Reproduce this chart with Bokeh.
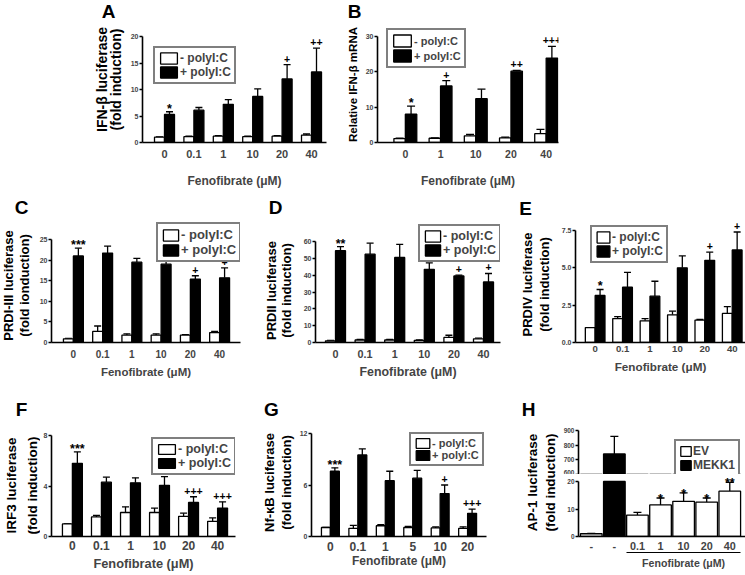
import numpy as np
from bokeh.plotting import figure
from bokeh.layouts import column, row
from bokeh.models import (Range1d, FixedTicker, Legend, LegendItem, Whisker,
                          TeeHead, ColumnDataSource, PrintfTickFormatter, LinearAxis)
from bokeh.core.properties import value
from bokeh.embed import file_html
from bokeh.resources import INLINE

FONT = "Liberation Sans"
LW = 1.3
AX_LW = 1.6
W_TOTAL = 745

# ---------------- data ----------------
POLY_LEGEND = ["- polyI:C", "+ polyI:C"]
X_TITLE = "Fenofibrate (\u03bcM)"
LETTERS = ["A", "B", "C", "D", "E", "F", "G", "H"]

A_doses = ["0", "0.1", "1", "10", "20", "40"]
A_minus = [1.0, 1.1, 1.2, 1.1, 1.2, 1.4]
A_minus_sem = [0.05, 0.1, 0.1, 0.1, 0.1, 0.2]
A_plus = [5.3, 6.1, 7.2, 8.7, 12.0, 13.3]
A_plus_sem = [0.5, 0.5, 0.9, 1.4, 2.7, 4.5]
A_sig = ["*", "", "", "", "+", "++"]
A_yticks = [0, 5, 10, 15, 20]
A_ylabel = ["IFN-\u03b2 luciferase", "(fold induction)"]

B_doses = ["0", "1", "10", "20", "40"]
B_minus = [1.1, 1.2, 1.9, 1.3, 2.5]
B_minus_sem = [0.1, 0.1, 0.4, 0.2, 1.2]
B_plus = [8.0, 16.0, 12.4, 20.2, 23.9]
B_plus_sem = [2.3, 1.5, 2.7, 0.2, 3.3]
B_sig = ["*", "+", "", "++", "+++"]
B_yticks = [0, 10, 20, 30]
B_ylabel = ["Relative IFN-\u03b2 mRNA"]

C_doses = ["0", "0.1", "1", "10", "20", "40"]
C_minus = [0.9, 2.7, 1.8, 1.8, 1.8, 2.4]
C_minus_sem = [0.1, 1.3, 0.3, 0.3, 0.1, 0.3]
C_plus = [21.0, 21.7, 19.5, 19.0, 15.4, 15.7]
C_plus_sem = [1.9, 1.7, 0.9, 1.4, 0.8, 2.4]
C_sig = ["***", "", "", "", "+", "+"]
C_yticks = [0, 5, 10, 15, 20, 25]
C_ylabel = ["PRDI-III luciferase", "(fold ionduction)"]

D_doses = ["0", "0.1", "1", "10", "20", "40"]
D_minus = [1.0, 1.5, 1.5, 1.3, 3.0, 2.2]
D_minus_sem = [0.2, 0.3, 0.3, 0.3, 1.3, 0.4]
D_plus = [54.5, 52.5, 50.5, 43.5, 39.5, 36.0]
D_plus_sem = [2.4, 6.5, 7.8, 3.8, 0.5, 5.0]
D_sig = ["**", "", "", "", "+", "+"]
D_yticks = [0, 10, 20, 30, 40, 50, 60]
D_ylabel = ["PRDII luciferase", "(fold induction)"]

E_doses = ["0", "0.1", "1", "10", "20", "40"]
E_minus = [1.0, 1.6, 1.45, 1.85, 1.5, 1.95]
E_minus_sem = [0.0, 0.13, 0.15, 0.25, 0.05, 0.45]
E_plus = [3.15, 3.7, 3.1, 5.0, 5.5, 6.2]
E_plus_sem = [0.4, 1.0, 1.0, 0.8, 0.55, 1.2]
E_sig = ["*", "", "", "", "+", "+"]
E_yticks = [0, 2.5, 5.0, 7.5]
E_ylabel = ["PRDIV luciferase", "(fold induction)"]

F_doses = ["0", "0.1", "1", "10", "20", "40"]
F_minus = [1.0, 1.55, 1.9, 1.9, 1.6, 1.2]
F_minus_sem = [0.0, 0.12, 0.45, 0.35, 0.25, 0.27]
F_plus = [5.8, 4.3, 4.25, 4.05, 2.7, 2.25]
F_plus_sem = [0.9, 0.4, 0.4, 0.7, 0.45, 0.5]
F_sig = ["***", "", "", "", "+++", "+++"]
F_yticks = [0, 4, 8]
F_ylabel = ["IRF3 luciferase", "(fold induction)"]

G_doses = ["0", "0.1", "1", "5", "10", "20"]
G_minus = [1.05, 0.95, 1.25, 1.05, 1.0, 0.95]
G_minus_sem = [0.0, 0.35, 0.12, 0.12, 0.12, 0.18]
G_plus = [7.6, 9.5, 6.5, 6.8, 5.0, 2.7]
G_plus_sem = [0.4, 0.7, 1.1, 0.9, 1.0, 0.5]
G_sig = ["***", "", "", "", "+", "+++"]
G_yticks = [0, 6, 12]
G_ylabel = ["Nf-\u03baB luciferase", "(fold induction)"]

H_labels = ["-", "-", "0.1", "1", "10", "20", "40"]
H_group = ["EV", "MEKK1", "EV", "EV", "EV", "EV", "EV"]
H_vals = [1.0, 740.0, 7.8, 11.5, 12.8, 12.5, 16.5]
H_sem = [0.1, 120.0, 1.0, 2.5, 3.1, 1.5, 3.2]
H_sig = ["", "", "", "*", "*", "*", "**"]
H_low_ticks = [0, 10, 20]
H_high_ticks = [600, 700, 800, 900]
H_legend = ["EV", "MEKK1"]
H_ylabel = ["AP-1 luciferase", "(fold induction)"]

# ---------------- layout geometry (page pixels) ----------------
# (row top, row bottom, frame top, frame bottom)
R1 = (22, 192, 26, 142)
R2 = (219, 385, 219, 342)
R3 = (421, 575, 430, 536)
HEAD = [(0, 22), (192, 219), (385, 421)]


# ---------------- helpers ----------------
def make_fig(left, width, rowg, x0, x1, xr, yr, xaxis=True, yaxis=True):
    rt, rb, ft, fb = rowg
    kw = dict(width=int(width), height=int(rb - rt), x_range=xr, y_range=yr,
              output_backend="svg", toolbar_location=None,
              min_border_left=int(round(x0 - left)), min_border_right=int(round(left + width - x1)),
              min_border_top=int(round(ft - rt)), min_border_bottom=int(round(rb - fb)))
    if not xaxis:
        kw["x_axis_location"] = None
    if not yaxis:
        kw["y_axis_location"] = None
    p = figure(**kw)
    p.outline_line_color = None
    p.grid.visible = False
    return p


def header_fig(top, bottom, xs, ys, texts):
    p = make_fig(0, W_TOTAL, (top, bottom, top, bottom), 0, W_TOTAL,
                 Range1d(0, W_TOTAL), Range1d(bottom, top), xaxis=False, yaxis=False)
    p.text(x=xs, y=ys, text=texts, text_align="center", text_baseline="middle",
           text_font=value(FONT), text_font_style="bold", text_font_size="19px", text_color="black")
    return p


def ylabel_fig(left, right, rowg, xs, yc, lines, size):
    rt, rb, ft, fb = rowg
    p = make_fig(left, right - left, rowg, left, right, Range1d(left, right), Range1d(fb, ft),
                 xaxis=False, yaxis=False)
    p.text(x=xs, y=[yc] * len(lines), text=lines, angle=np.pi / 2, text_align="center",
           text_baseline="middle", text_font=value(FONT), text_font_style="bold",
           text_font_size=f"{size}px", text_color="black")
    return p


def style_y(p, ticks, size, fmt=None):
    ax = p.yaxis[0]
    ax.ticker = FixedTicker(ticks=ticks)
    ax.bounds = (ticks[0], ticks[-1])
    ax.axis_line_width = AX_LW
    ax.major_tick_line_width = AX_LW
    ax.major_tick_in = 0
    ax.major_tick_out = 3
    ax.minor_tick_line_color = None
    ax.major_label_text_font = FONT
    ax.major_label_text_font_style = "bold"
    ax.major_label_text_font_size = f"{size}px"
    ax.major_label_standoff = 1
    if fmt:
        ax.formatter = PrintfTickFormatter(format=fmt)


def style_x(p, labels, size, title, tsize, s, t):
    ax = p.xaxis[0]
    ax.ticker = FixedTicker(ticks=list(range(len(labels))))
    ax.major_label_overrides = {i: lab for i, lab in enumerate(labels)}
    ax.major_tick_in = 0
    ax.major_tick_out = 0
    ax.major_tick_line_color = None
    ax.minor_tick_line_color = None
    ax.axis_line_width = AX_LW
    ax.major_label_text_font = FONT
    ax.major_label_text_font_style = "bold"
    ax.major_label_text_font_size = f"{size}px"
    ax.major_label_standoff = s
    if title:
        ax.axis_label = title
        ax.axis_label_standoff = t
        ax.axis_label_text_font = FONT
        ax.axis_label_text_font_style = "bold"
        ax.axis_label_text_font_size = f"{tsize}px"


def add_legend(p, x0, fb, renderers, labels, lbox, font, gw, dy):
    lx0, ly0, lx1, ly1 = lbox
    pad = 3
    gh = int(round((ly1 - ly0 - 4) / 2))
    items = [LegendItem(label=l, renderers=[r]) for l, r in zip(labels, renderers)]
    leg = Legend(items=items, location=(int(round(lx0 - x0)), int(round(fb - ly1)) - 10 + dy),
                 orientation="vertical", border_line_color="black", border_line_width=2,
                 background_fill_color="white", background_fill_alpha=1.0,
                 padding=pad, spacing=0, margin=0, label_standoff=1,
                 glyph_width=gw, glyph_height=gh, label_height=gh,
                 label_text_font=FONT, label_text_font_style="bold",
                 label_text_font_size=f"{font}px", label_text_baseline="middle")
    p.add_layout(leg)


def sig_style(sig, star_off, plus_off):
    sizes = ["12.5px" if "*" in s else "10.5px" for s in sig]
    offs = [star_off if "*" in s else plus_off for s in sig]
    return sizes, offs


def sig_text(p, src):
    p.text(x="x", y="up", text="sig", source=src, text_align="center", text_baseline="alphabetic",
           text_font=value(FONT), text_font_style="bold", text_font_size="fs",
           y_offset="yo", text_color="black")


def grouped_panel(spec, rowg, cats, minus, minus_sem, plus, plus_sem, sig, yticks, yfmt=None):
    rt, rb, ft, fb = rowg
    x0, x1 = spec["fx"]
    c0, sp, bw = spec["c0"], spec["sp"], spec["bw"]
    ppu = (fb - spec["ax_top"]) / yticks[-1]
    xr = Range1d((x0 - c0) / sp, (x1 - c0) / sp)
    yr = Range1d(0, (fb - ft) / ppu)
    p = make_fig(spec["left"], spec["width"], rowg, x0, x1, xr, yr)
    w = bw / sp
    idx = np.arange(len(cats), dtype=float)
    fs, yo = sig_style(sig, -3, -6)
    sm = ColumnDataSource(dict(x=idx - w / 2, top=minus, up=list(np.add(minus, minus_sem))))
    spl = ColumnDataSource(dict(x=idx + w / 2, top=plus, up=list(np.add(plus, plus_sem)),
                                sig=sig, fs=fs, yo=yo))
    rm = p.vbar(x="x", top="top", bottom=0, width=w, source=sm,
                fill_color="white", line_color="black", line_width=LW)
    rp = p.vbar(x="x", top="top", bottom=0, width=w, source=spl,
                fill_color="black", line_color="black", line_width=LW)
    for s in (sm, spl):
        p.add_layout(Whisker(source=s, base="x", lower="top", upper="up",
                             line_width=LW, line_color="black",
                             upper_head=TeeHead(size=spec["cap"], line_width=LW, line_color="black"),
                             lower_head=None))
    sig_text(p, spl)
    style_y(p, yticks, 7, yfmt)
    style_x(p, cats, spec["xsize"], X_TITLE, spec["tsize"], spec["s"], spec["t"])
    add_legend(p, x0, fb, [rm, rp], POLY_LEGEND, spec["leg"], spec["lfont"], spec["gw"], spec["dy"])
    return p


# ---------------- panel specs ----------------
A_spec = dict(left=126, width=214, fx=(142, 326), ax_top=36, c0=164, sp=29.4, bw=10, cap=7,
              xsize=11, tsize=12, s=7, t=13, leg=(153, 42, 233, 73), lfont=12, gw=21, dy=-1)
B_spec = dict(left=362, width=383, fx=(376, 558), ax_top=36, c0=404, sp=35.4, bw=11.5, cap=8,
              xsize=10.5, tsize=12, s=7, t=13, leg=(385, 32, 462, 66), lfont=11, gw=22, dy=8)
C_spec = dict(left=36, width=224, fx=(50, 240), ax_top=239, c0=72, sp=29.4, bw=10, cap=7,
              xsize=10, tsize=11.5, s=7, t=5, leg=(155, 221, 237, 252), lfont=13, gw=19, dy=0)
D_spec = dict(left=296, width=216, fx=(315, 500), ax_top=241, c0=335, sp=29.6, bw=10, cap=7,
              xsize=10.8, tsize=12.4, s=7, t=4, leg=(418, 221, 498, 252), lfont=12.5, gw=19, dy=0)
E_spec = dict(left=558, width=187, fx=(572, 745), ax_top=230, c0=592, sp=27.9, bw=10, cap=7,
              xsize=9.6, tsize=11.7, s=3, t=5, leg=(587, 226, 662, 259), lfont=12, gw=16, dy=6)
F_spec = dict(left=40, width=215, fx=(50, 235), ax_top=435, c0=71, sp=29.2, bw=10, cap=7,
              xsize=12, tsize=12.8, s=4, t=3, leg=(150, 438, 232, 467), lfont=12.5, gw=21, dy=2)
G_spec = dict(left=296, width=224, fx=(310, 486), ax_top=433, c0=329, sp=27.6, bw=9, cap=7,
              xsize=12, tsize=12, s=5, t=0, leg=(408, 432, 480, 460), lfont=11, gw=17, dy=4)

pA = grouped_panel(A_spec, R1, A_doses, A_minus, A_minus_sem, A_plus, A_plus_sem, A_sig, A_yticks)
pB = grouped_panel(B_spec, R1, B_doses, B_minus, B_minus_sem, B_plus, B_plus_sem, B_sig, B_yticks)
pC = grouped_panel(C_spec, R2, C_doses, C_minus, C_minus_sem, C_plus, C_plus_sem, C_sig, C_yticks)
pD = grouped_panel(D_spec, R2, D_doses, D_minus, D_minus_sem, D_plus, D_plus_sem, D_sig, D_yticks)
pE = grouped_panel(E_spec, R2, E_doses, E_minus, E_minus_sem, E_plus, E_plus_sem, E_sig, E_yticks,
                   yfmt="%.1f")
pF = grouped_panel(F_spec, R3, F_doses, F_minus, F_minus_sem, F_plus, F_plus_sem, F_sig, F_yticks)
pG = grouped_panel(G_spec, R3, G_doses, G_minus, G_minus_sem, G_plus, G_plus_sem, G_sig, G_yticks)

# y-axis titles (separate narrow text panels)
lA = ylabel_fig(0, 126, R1, [101, 115], 79, A_ylabel, 14)
lB = ylabel_fig(340, 362, R1, [352], 84, B_ylabel, 11.5)
lC = ylabel_fig(0, 36, R2, [8, 24], 285, C_ylabel, 13)
lD = ylabel_fig(260, 296, R2, [271, 286], 290, D_ylabel, 13)
lE = ylabel_fig(512, 558, R2, [527, 544], 284, E_ylabel, 13)
lF = ylabel_fig(0, 40, R3, [11, 32], 485, F_ylabel, 13.5)
lG = ylabel_fig(255, 296, R3, [269, 286], 482, G_ylabel, 13)
lH = ylabel_fig(520, 560, R3, [532, 550], 482, H_ylabel, 13.5)

# panel letters
h1 = header_fig(HEAD[0][0], HEAD[0][1], [108, 354], [11, 11], LETTERS[0:2])
h2 = header_fig(HEAD[1][0], HEAD[1][1], [21, 275, 525], [207, 207, 208], LETTERS[2:5])
h3 = header_fig(HEAD[2][0], HEAD[2][1], [21, 271, 528], [409, 409, 409], LETTERS[5:8])

# ---------------- panel H (broken axis) ----------------
H_left, H_width = 560, 185
H_x0, H_x1 = 575, 745
H_c0, H_sp, H_bw = 588, 23.5, 22
H_split = 474      # bottom of upper segment / top of lower frame
H_break_px = 481   # where the lower segment's top tick sits
rt3, rb3, ft3, fb3 = R3
H_xr = Range1d((H_x0 - H_c0) / H_sp, (H_x1 - H_c0) / H_sp)
H_w = H_bw / H_sp
ppu_lo = (fb3 - H_break_px) / H_low_ticks[-1]
Hb_yr = Range1d(0, (fb3 - H_split) / ppu_lo)
Ht_yr = Range1d(H_high_ticks[0], H_high_ticks[-1])

pHt = make_fig(H_left, H_width, (rt3, H_split, ft3, H_split), H_x0, H_x1, H_xr, Ht_yr, xaxis=False)
pHb = make_fig(H_left, H_width, (H_split, rb3, H_split, fb3), H_x0, H_x1, H_xr, Hb_yr)

H_x = np.arange(len(H_vals), dtype=float)
H_up = list(np.add(H_vals, H_sem))
H_low_top = list(np.minimum(H_vals, H_low_ticks[-1]))


def h_source(group, top_vals):
    ii = [i for i, g in enumerate(H_group) if g == group]
    return ColumnDataSource(dict(x=[H_x[i] for i in ii], top=[top_vals[i] for i in ii]))


hrend = {}
for name, pp, tops in (("top", pHt, H_vals), ("bot", pHb, H_low_top)):
    for group, col in (("EV", "white"), ("MEKK1", "black")):
        r = pp.vbar(x="x", top="top", bottom=0, width=H_w, source=h_source(group, tops),
                    fill_color=col, line_color="black", line_width=LW)
        hrend[(name, group)] = r

hi_idx = [i for i, v in enumerate(H_vals) if v >= H_high_ticks[0]]
lo_idx = [i for i, v in enumerate(H_vals) if v <= H_low_ticks[-1]]
src_hi = ColumnDataSource(dict(x=[H_x[i] for i in hi_idx], top=[H_vals[i] for i in hi_idx],
                               up=[H_up[i] for i in hi_idx]))
lo_sig = [H_sig[i] for i in lo_idx]
lo_fs, lo_yo = sig_style(lo_sig, 1, -2)
src_lo = ColumnDataSource(dict(x=[H_x[i] for i in lo_idx], top=[H_vals[i] for i in lo_idx],
                               up=[H_up[i] for i in lo_idx], sig=lo_sig, fs=lo_fs, yo=lo_yo))
for pp, src in ((pHt, src_hi), (pHb, src_lo)):
    pp.add_layout(Whisker(source=src, base="x", lower="top", upper="up",
                          line_width=LW, line_color="black",
                          upper_head=TeeHead(size=8, line_width=LW, line_color="black"),
                          lower_head=None))
sig_text(pHb, src_lo)

style_y(pHt, H_high_ticks, 6.5)
style_y(pHb, H_low_ticks, 6.5)
style_x(pHb, H_labels, 10.8, None, 10.6, 5, 0)

treated = [i for i, l in enumerate(H_labels) if l != "-"]
title_pos = int(round(np.mean(treated)))
ax2 = LinearAxis(ticker=FixedTicker(ticks=[title_pos]),
                 major_label_overrides={title_pos: X_TITLE},
                 bounds=(treated[0] - H_w / 2, treated[-1] + H_w / 2),
                 major_tick_in=0, major_tick_out=0, minor_tick_in=0, minor_tick_out=0,
                 major_tick_line_color=None, minor_tick_line_color=None,
                 major_label_standoff=4, axis_line_width=1.2,
                 major_label_text_font=FONT, major_label_text_font_style="bold",
                 major_label_text_font_size="10.6px")
pHb.add_layout(ax2, "below")

add_legend(pHt, H_x0, H_split, [hrend[("top", "EV")], hrend[("top", "MEKK1")]], H_legend,
           (671, 440, 740, 467), 12, 13, 0)

# ---------------- assemble ----------------
layout = column(
    h1,
    row(lA, pA, lB, pB),
    h2,
    row(lC, pC, lD, pD, lE, pE),
    h3,
    row(lF, pF, lG, pG, lH, column(pHt, pHb)),
)
open("out.html", "w").write(file_html(layout, INLINE))
